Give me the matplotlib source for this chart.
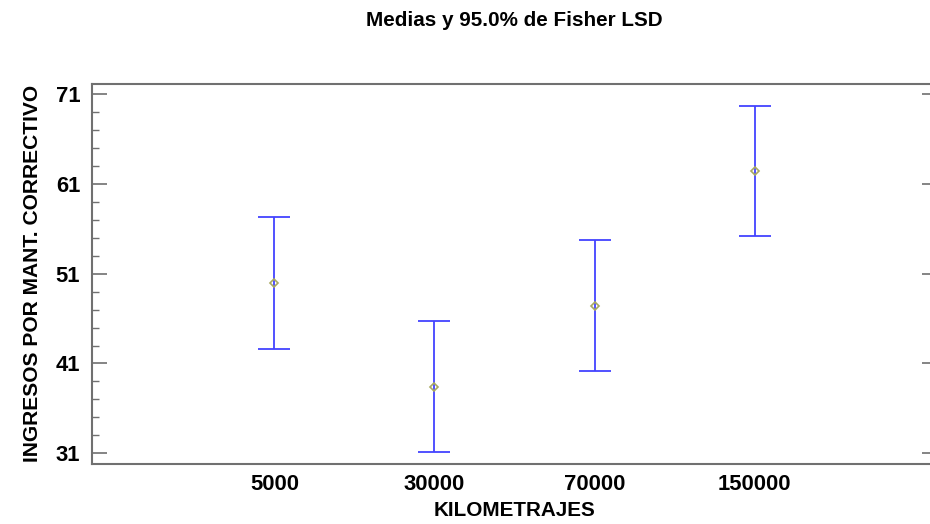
import numpy as np
import matplotlib.pyplot as plt
from matplotlib.ticker import FixedLocator

plt.rcParams['font.family'] = ['Liberation Sans', 'DejaVu Sans']

# Datos: medias e intervalos LSD al 95%
kilometrajes = ["5000", "30000", "70000", "150000"]
medias = [49.99, 38.42, 47.43, 62.46]
limite_inf = [42.62, 31.17, 40.15, 55.22]
limite_sup = [57.27, 45.72, 54.71, 69.74]
yticks = [31, 41, 51, 61, 71]

x = np.arange(1, len(kilometrajes) + 1)
medias = np.array(medias)
err = [medias - np.array(limite_inf), np.array(limite_sup) - medias]

fig = plt.figure(figsize=(9.3, 5.24), dpi=100)
ax = fig.add_axes([92 / 930, 1 - 464 / 524, 845 / 930, 380.5 / 524])

ax.errorbar(x, medias, yerr=err, fmt='none', ecolor='#4343ff',
            elinewidth=1.3, capsize=11.2, capthick=1.3)
ax.plot(x, medias, 'D', ms=4.5, mfc='none', mec='#a8a860', mew=1.2)

ax.set_xlim(-0.14, 5.14)
ax.set_ylim(29.8, 72.2)
ax.set_xticks(x)
ax.set_xticklabels(kilometrajes)
ax.set_yticks(yticks)
ax.yaxis.set_minor_locator(FixedLocator(np.arange(31, 72, 2)))

for s in ax.spines.values():
    s.set_color('#707070')
    s.set_linewidth(1.5)

ax.tick_params(axis='x', length=0, pad=7.5, labelsize=15.8)
ax.tick_params(axis='y', which='major', direction='in', length=11,
               width=1.2, color='#707070', right=True, pad=8.5, labelsize=15.8)
ax.tick_params(axis='y', which='minor', direction='in', length=5,
               width=1.0, color='#707070', right=True)
for lbl in ax.get_xticklabels() + ax.get_yticklabels():
    lbl.set_fontweight('bold')

ax.set_xlabel("KILOMETRAJES", fontsize=14.9, fontweight='bold', labelpad=4)
ax.set_ylabel("INGRESOS POR MANT. CORRECTIVO", fontsize=15.1,
              fontweight='bold', labelpad=10)
fig.text(514.5 / 930, 1 - 20 / 524, "Medias y 95.0% de Fisher LSD",
         ha='center', va='center', fontsize=14.9, fontweight='bold')

fig.savefig("out.png", dpi=100)
